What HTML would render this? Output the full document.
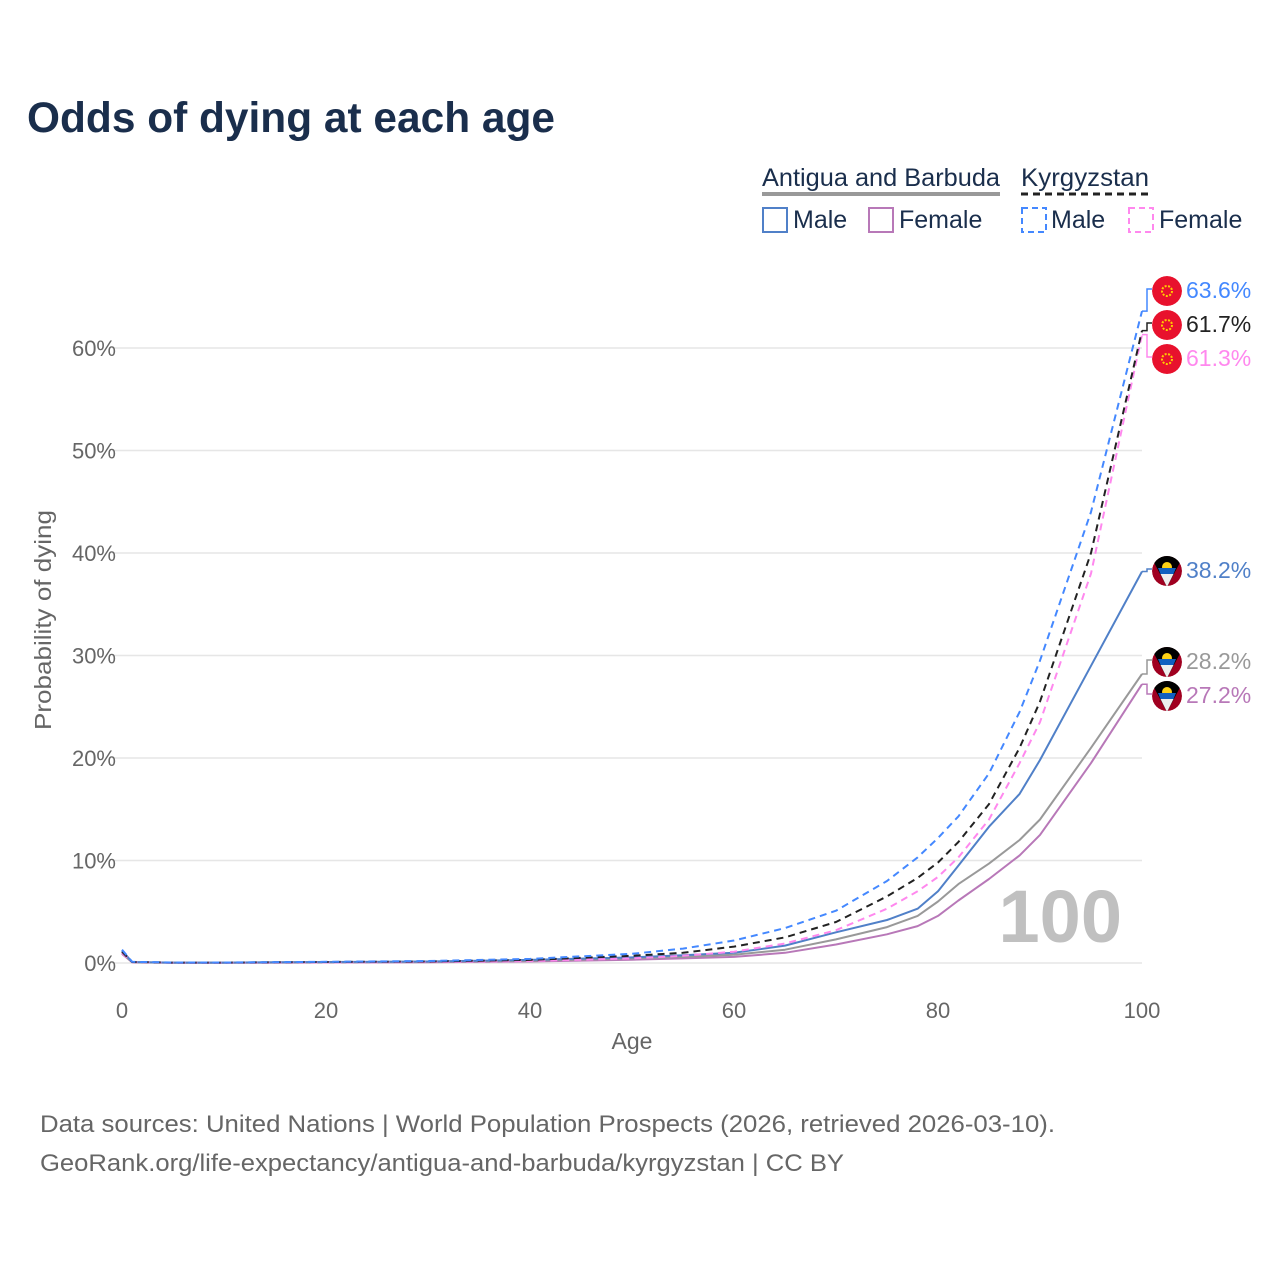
<!DOCTYPE html>
<html><head><meta charset="utf-8">
<style>
body{margin:0;background:#fff;font-family:"Liberation Sans",sans-serif;}
svg text{font-family:"Liberation Sans",sans-serif;}
</style></head>
<body>
<svg id="chart" width="1280" height="1280" viewBox="0 0 1280 1280" xmlns="http://www.w3.org/2000/svg">
<rect width="1280" height="1280" fill="#fff"/>
<text x="27" y="132" font-size="43" font-weight="bold" fill="#1a2e4c" textLength="528" lengthAdjust="spacingAndGlyphs">Odds of dying at each age</text>
<g font-size="25" fill="#1a2e4c">
<text x="762" y="186" textLength="238" lengthAdjust="spacingAndGlyphs">Antigua and Barbuda</text>
<line x1="762" y1="194" x2="1000" y2="194" stroke="#999" stroke-width="4"/>
<text x="1021" y="186" textLength="128" lengthAdjust="spacingAndGlyphs">Kyrgyzstan</text>
<line x1="1021" y1="194" x2="1149" y2="194" stroke="#222" stroke-width="3" stroke-dasharray="7,5"/>
<rect x="763" y="208" width="24" height="24" fill="none" stroke="#5080c8" stroke-width="2"/>
<text x="793" y="228">Male</text>
<rect x="869" y="208" width="24" height="24" fill="none" stroke="#b878b8" stroke-width="2"/>
<text x="899" y="228">Female</text>
<rect x="1022" y="208" width="24" height="24" fill="none" stroke="#4488ff" stroke-width="2" stroke-dasharray="6,4"/>
<text x="1051" y="228">Male</text>
<rect x="1129" y="208" width="24" height="24" fill="none" stroke="#ff88ee" stroke-width="2" stroke-dasharray="6,4"/>
<text x="1159" y="228">Female</text>
</g>
<g id="grid"></g>
<text x="1122" y="942" text-anchor="end" font-size="74" font-weight="bold" fill="#c0c0c0">100</text>
<g id="series"></g>
<g id="labels"></g>
<text x="632" y="1049" text-anchor="middle" font-size="23" fill="#666">Age</text>
<text transform="translate(51,620) rotate(-90)" text-anchor="middle" font-size="23" fill="#666" textLength="220" lengthAdjust="spacingAndGlyphs">Probability of dying</text>
<text x="40" y="1132" font-size="24" fill="#666" textLength="1015" lengthAdjust="spacingAndGlyphs">Data sources: United Nations | World Population Prospects (2026, retrieved 2026-03-10).</text>
<text x="40" y="1171" font-size="24" fill="#666" textLength="804" lengthAdjust="spacingAndGlyphs">GeoRank.org/life-expectancy/antigua-and-barbuda/kyrgyzstan | CC BY</text>
</svg>
<script>
const ages=[0,1,5,10,20,30,40,50,55,60,65,70,75,78,80,82,85,88,90,95,100];
const kgMale=[1.3,0.12,0.05,0.05,0.12,0.2,0.4,0.9,1.4,2.2,3.4,5.1,8,10.3,12.2,14.3,18.5,24.5,29.5,44,63.6];
const kgBoth=[1.1,0.1,0.04,0.04,0.1,0.15,0.3,0.7,1.0,1.6,2.5,4.0,6.5,8.3,9.8,11.8,15.5,21,25.5,40,61.7];
const kgFemale=[1.0,0.08,0.03,0.03,0.06,0.1,0.2,0.45,0.7,1.1,1.9,3.2,5.3,7.0,8.4,10.3,14,19.5,23.5,38,61.3];
const agMale=[1.2,0.1,0.04,0.04,0.1,0.15,0.3,0.55,0.75,1.0,1.7,3.0,4.2,5.3,7.0,9.5,13.3,16.5,19.8,29,38.2];
const agBoth=[1.0,0.08,0.03,0.03,0.08,0.12,0.22,0.45,0.6,0.8,1.3,2.3,3.5,4.6,6.0,7.7,9.7,12,14,21,28.2];
const agFemale=[0.9,0.06,0.02,0.02,0.05,0.08,0.15,0.32,0.45,0.6,1.0,1.8,2.8,3.6,4.6,6.1,8.2,10.5,12.5,19.5,27.2];
const yTicks=[0,10,20,30,40,50,60];
const xTicks=[0,20,40,60,80,100];
const endVals=[63.6,61.7,61.3,38.2,28.2,27.2];
const NS="http://www.w3.org/2000/svg";
const X=a=>122+a*10.2, Y=v=>963-v*10.25;
function mk(t,attrs,parent){const e=document.createElementNS(NS,t);for(const k in attrs)e.setAttribute(k,attrs[k]);parent.appendChild(e);return e;}
const grid=document.getElementById('grid');
yTicks.forEach(v=>{
 const l=mk('line',{x1:112,x2:1142,y1:Y(v),y2:Y(v),stroke:'#e6e6e6','stroke-width':1.5},grid);
 
 
 const t=mk('text',{x:116,y:Y(v)+8,'text-anchor':'end','font-size':22,fill:'#666'},grid);
 t.textContent=v+'%';
 
 
});
xTicks.forEach(a=>{
 const t=mk('text',{x:X(a),y:1018,'text-anchor':'middle','font-size':22,fill:'#666'},grid);
 t.textContent=a;
 
 
});
const ser=document.getElementById('series');
const defs=[
 [agFemale,'#b878b8',null,'ag-female-line'],
 [agBoth,'#999999',null,'ag-both-line'],
 [agMale,'#5080c8',null,'ag-male-line'],
 [kgFemale,'#ff88ee','7,5','kg-female-line'],
 [kgBoth,'#222222','7,5','kg-both-line'],
 [kgMale,'#4488ff','7,5','kg-male-line']];
defs.forEach(([vals,c,dash,name])=>{
 const d=vals.map((v,i)=>(i?'L':'M')+X(ages[i]).toFixed(1)+','+Y(v).toFixed(1)).join(' ');
 const p=mk('path',{d:d,fill:'none',stroke:c,'stroke-width':2,'stroke-linejoin':'round'},ser);
 if(dash)p.setAttribute('stroke-dasharray',dash);
 
 
});
const lab=document.getElementById('labels');
const defsEl=mk('defs',{},lab);
const labs=[[0,289,'#4488ff','kg'],[1,323,'#222','kg'],[2,357,'#ff88ee','kg'],[3,569,'#5080c8','ag'],[4,660,'#999','ag'],[5,694,'#b878b8','ag']];
labs.forEach(([i,ly,c,f])=>{
 const v=endVals[i];
 mk('path',{d:`M1142,${Y(v)} L1147,${Y(v)} L1147,${ly} L1152,${ly}`,fill:'none',stroke:c,'stroke-width':1.5},lab);
 const cp=mk('clipPath',{id:'cp'+i},defsEl);
 mk('circle',{cx:1167,cy:ly+2,r:15},cp);
 const g=mk('g',{'clip-path':`url(#cp${i})`},lab);
 
 
 if(f==='kg'){
  mk('circle',{cx:1167,cy:ly+2,r:15,fill:'#e8112d'},g);
  mk('circle',{cx:1167,cy:ly+2,r:5,fill:'none',stroke:'#ffcc00','stroke-width':2,'stroke-dasharray':'2,1.5'},g);
 }else{
  mk('circle',{cx:1167,cy:ly+2,r:15,fill:'#a00020'},g);
  mk('path',{d:`M1150,${ly-14} L1184,${ly-14} L1167,${ly+18} Z`,fill:'#000'},g);
  mk('circle',{cx:1167,cy:ly-2,r:5,fill:'#fcd116'},g);
  mk('path',{d:`M1158,${ly-1} L1176,${ly-1} L1173.5,${ly+5} L1160.5,${ly+5} Z`,fill:'#1060c0'},g);
  mk('path',{d:`M1160.5,${ly+5} L1173.5,${ly+5} L1167,${ly+18} Z`,fill:'#eee'},g);
 }
 const t=mk('text',{x:1186,y:ly+9,'font-size':23,fill:c},lab);
 t.textContent=v.toFixed(1)+'%';
 
 
});
</script>
</body></html>
